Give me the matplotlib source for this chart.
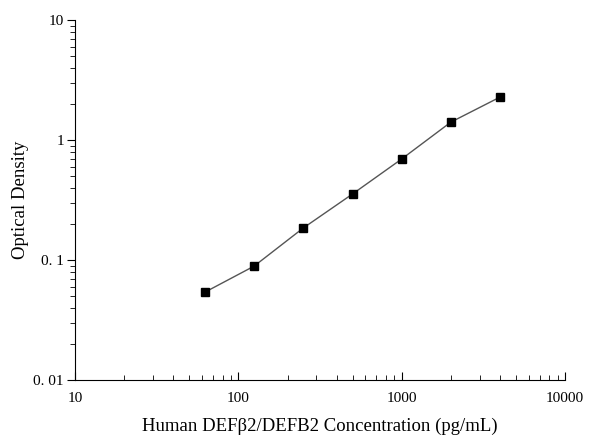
import matplotlib.pyplot as plt
from matplotlib.ticker import FixedLocator, FixedFormatter, LogLocator, NullFormatter

# Standard curve values
concentration = [62.5, 125, 250, 500, 1000, 2000, 4000]
optical_density = [0.054, 0.089, 0.185, 0.355, 0.695, 1.41, 2.28]

x_ticks = [10, 100, 1000, 10000]
x_labels = ["10", "100", "1000", "10000"]
y_ticks = [0.01, 0.1, 1, 10]
y_labels = ["0. 01", "0. 1", "1", "10"]

plt.rcParams["font.family"] = ["Liberation Serif", "DejaVu Serif"]

fig = plt.figure(figsize=(6, 4.46), dpi=100)
ax = fig.add_axes([0.125, 0.148, 0.8167, 0.807])

ax.plot(concentration, optical_density, color="#555555", linewidth=1,
        marker="s", markersize=6, markerfacecolor="black", markeredgecolor="black")

ax.set_xscale("log")
ax.set_yscale("log")
ax.set_xlim(10, 10000)
ax.set_ylim(0.01, 10)

ax.xaxis.set_major_locator(FixedLocator(x_ticks))
ax.xaxis.set_major_formatter(FixedFormatter(x_labels))
ax.yaxis.set_major_locator(FixedLocator(y_ticks))
ax.yaxis.set_major_formatter(FixedFormatter(y_labels))
ax.xaxis.set_minor_locator(LogLocator(base=10, subs=range(2, 10)))
ax.yaxis.set_minor_locator(LogLocator(base=10, subs=range(2, 10)))
ax.xaxis.set_minor_formatter(NullFormatter())
ax.yaxis.set_minor_formatter(NullFormatter())

ax.spines["top"].set_visible(False)
ax.spines["right"].set_visible(False)
ax.tick_params(axis="x", which="both", direction="in", labelsize=11, pad=9)
ax.tick_params(axis="y", which="both", direction="out", labelsize=11, pad=2)
ax.tick_params(which="major", length=6)
ax.tick_params(which="minor", length=3.5)

ax.set_xlabel("Human DEF\u03b22/DEFB2 Concentration (pg/mL)", fontsize=13.5, labelpad=9)
ax.set_ylabel("Optical Density", fontsize=13.5, labelpad=3)

fig.savefig("out.png", dpi=100)
